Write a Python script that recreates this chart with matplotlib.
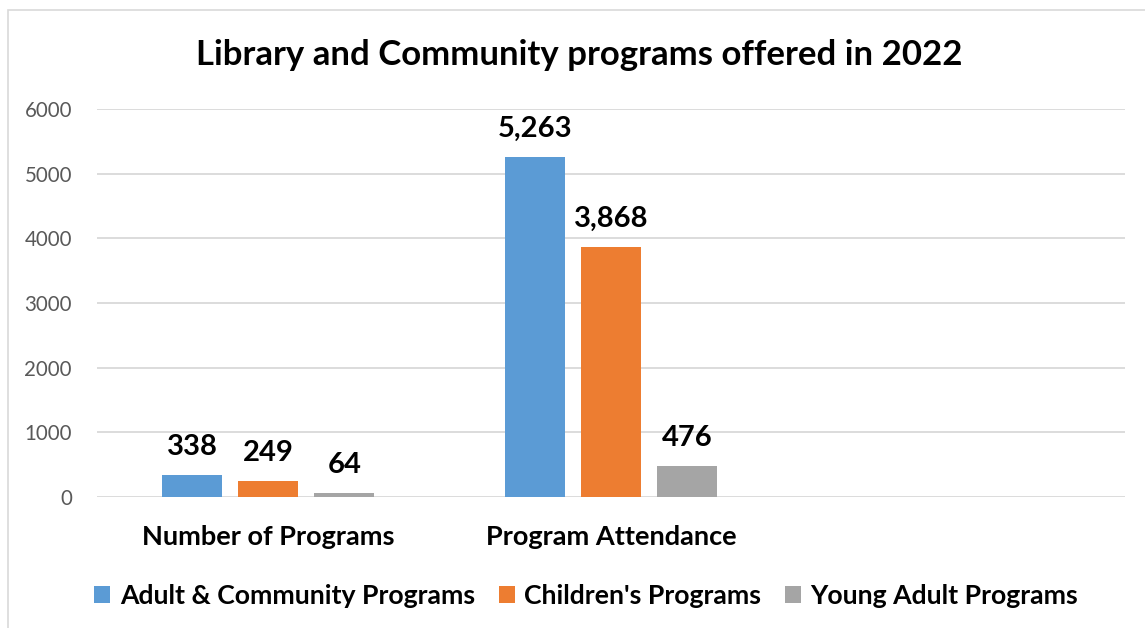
import numpy as np
import matplotlib
matplotlib.use("Agg")
import matplotlib.pyplot as plt
from matplotlib.patches import Rectangle

# 数据
categories = ["Number of Programs", "Program Attendance", ""]
series_names = ["Adult & Community Programs", "Children's Programs", "Young Adult Programs"]
adult = [338, 5263, None]
children = [249, 3868, None]
young_adult = [64, 476, None]
y_ticks = [0, 1000, 2000, 3000, 4000, 5000, 6000]
title = "Library and Community programs offered in 2022"

colors = ["#5B9BD5", "#ED7D31", "#A5A5A5"]

plt.rcParams['font.family'] = ['Lato', 'DejaVu Sans']

fig = plt.figure(figsize=(11.45, 6.28), dpi=100)
ax = fig.add_axes([0.0847, 0.2086, 0.8978, 0.6178])

# 外边框
fig.patches.append(Rectangle((8 / 1145, -0.1), 1.2, 1 - 10 / 628 + 0.1,
                             transform=fig.transFigure, fill=False,
                             edgecolor="#D9D9D9", linewidth=1.2))

x = np.arange(len(categories))
width = 0.175
offsets = [-0.222, 0.0, 0.222]

for vals, name, color, off in zip([adult, children, young_adult], series_names, colors, offsets):
    xs = [xi + off for xi, v in zip(x, vals) if v is not None]
    ys = [v for v in vals if v is not None]
    bars = ax.bar(xs, ys, width, color=color, label=name, zorder=3)
    for b, v in zip(bars, ys):
        ax.annotate(f"{v:,}", (b.get_x() + b.get_width() / 2, v),
                    xytext=(0, 11), textcoords="offset points",
                    ha="center", va="bottom", fontsize=21, fontweight="bold",
                    color="black")

ax.set_xlim(-0.5, len(categories) - 0.5)
ax.set_ylim(0, 6000)
ax.set_yticks(y_ticks)
ax.set_yticklabels([str(t) for t in y_ticks])
ax.set_xticks(x)
ax.set_xticklabels(categories, fontsize=19.5, fontweight="bold")
ax.tick_params(axis="x", length=0, pad=20)
ax.tick_params(axis="y", length=0, pad=18, labelsize=14.8, labelcolor="#595959")
ax.grid(axis="y", color="#D9D9D9", linewidth=1.3, zorder=0)
for s in ax.spines.values():
    s.set_visible(False)

fig.text(0.506, 0.912, title, ha="center", va="center", fontsize=25, fontweight="bold")

leg = ax.legend(loc="center", bbox_to_anchor=(0.476, -0.255), ncol=3, frameon=False,
                prop={"size": 19.2, "weight": "bold"}, handlelength=0.6, handleheight=0.6,
                handletextpad=0.35, columnspacing=0.9)

fig.savefig("out.png", dpi=100)
